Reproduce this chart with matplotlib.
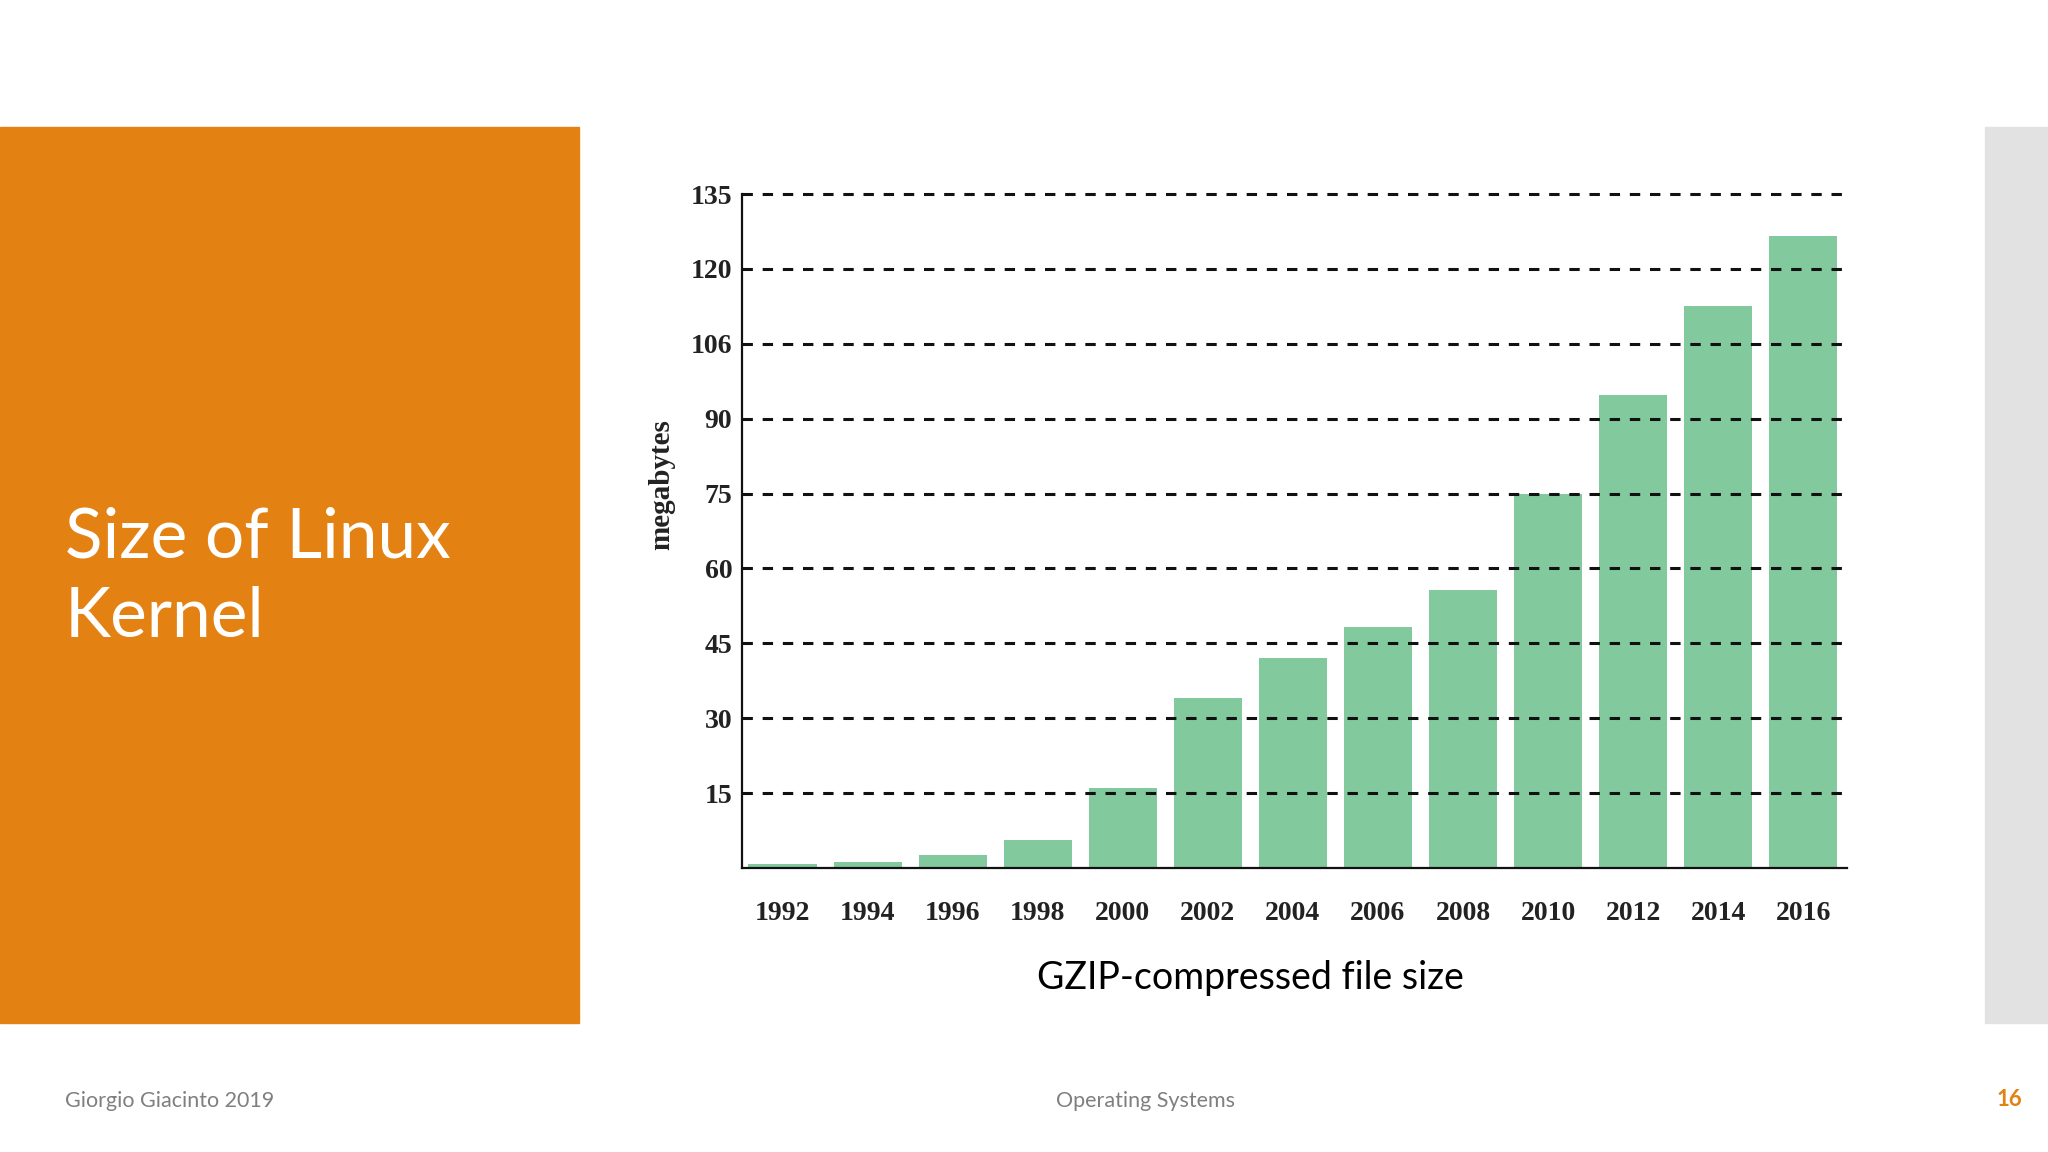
import matplotlib.pyplot as plt
from matplotlib.patches import Rectangle


years = ['1992', '1994', '1996', '1998', '2000', '2002', '2004',
         '2006', '2008', '2010', '2012', '2014', '2016']
# gzip-compressed kernel size in megabytes
sizes = [0.8, 1.2, 2.6, 5.7, 16.1, 34.0, 42.1, 48.3, 55.7, 75.0, 94.8, 112.5, 126.6]
ytick_values = [15, 30, 45, 60, 75, 90, 105, 120, 135]
ytick_labels = ['15', '30', '45', '60', '75', '90', '106', '120', '135']

ORANGE = '#e38213'
GREEN = '#82ca9d'
SERIF = 'Liberation Serif'
SANS = 'Lato'

fig = plt.figure(figsize=(20.48, 11.52), dpi=100)
fig.patch.set_facecolor('white')

# slide decoration: orange title block and grey strip on the right
fig.patches.append(Rectangle((0, 1 - 1023 / 1152), 579 / 2048, 896 / 1152,
                             transform=fig.transFigure, color=ORANGE, zorder=0))
fig.patches.append(Rectangle((1985 / 2048, 1 - 1023 / 1152), 63 / 2048, 896 / 1152,
                             transform=fig.transFigure, color='#e2e2e2', zorder=0))

fig.text(65 / 2048, 1 - 557 / 1152, 'Size of Linux', color='white',
         family=SANS, fontsize=50, ha='left', va='baseline')
fig.text(65 / 2048, 1 - 637 / 1152, 'Kernel', color='white',
         family=SANS, fontsize=50, ha='left', va='baseline')

# footer
fig.text(65 / 2048, 1 - 1107 / 1152, 'Giorgio Giacinto 2019', color='#7f7f7f',
         family=SANS, fontsize=15.5, ha='left', va='baseline')
fig.text(1146 / 2048, 1 - 1107 / 1152, 'Operating Systems', color='#7f7f7f',
         family=SANS, fontsize=15.5, ha='center', va='baseline')
fig.text(2022 / 2048, 1 - 1106 / 1152, '16', color=ORANGE, fontweight='bold',
         family=SANS, fontsize=16, ha='right', va='baseline')

ax = fig.add_axes([742 / 2048, 1 - 868 / 1152, 1105 / 2048, 674 / 1152])
x = list(range(len(years)))
ax.bar(x, sizes, width=0.8, color=GREEN, zorder=2)

# dashed reference lines sit on top of the bars
for v in ytick_values:
    ax.axhline(v, color='#111111', lw=2.2, linestyle=(0, (3.4, 3.2)),
               zorder=3, clip_on=False)

ax.set_xlim(-0.476, 12.513)
ax.set_ylim(0, 135)

ax.set_xticks(x)
ax.set_xticklabels(years, family=SERIF, fontweight='bold', fontsize=20)
ax.set_yticks(ytick_values)
ax.set_yticklabels(ytick_labels, family=SERIF, fontweight='bold', fontsize=20)
ax.tick_params(axis='x', length=0, pad=24, colors='#222222')
ax.tick_params(axis='y', length=0, pad=7, colors='#222222')
for lbl in ax.get_yticklabels():
    lbl.set_verticalalignment('center_baseline')

ax.spines['top'].set_visible(False)
ax.spines['right'].set_visible(False)
ax.spines['left'].set_linewidth(1.6)
ax.spines['bottom'].set_linewidth(1.6)
ax.spines['left'].set_color('#111111')
ax.spines['bottom'].set_color('#111111')

fig.text(662 / 2048, 1 - 485 / 1152, 'megabytes', rotation=90, family=SERIF,
         fontweight='bold', fontsize=21, color='#222222', ha='center', va='center')
fig.text(1250 / 2048, 1 - 989 / 1152, 'GZIP-compressed file size', color='black',
         family=SANS, fontsize=27, ha='center', va='baseline')

fig.savefig('out.png', dpi=100)
